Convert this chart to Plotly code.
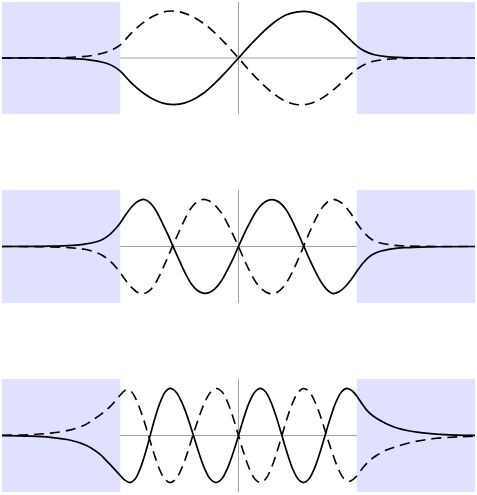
import plotly.graph_objects as go

# ---------------- data ----------------
# Panel 1 (top)
x1 = [-2.0, -1.6, -1.45, -1.35, -1.25, -1.15, -1.1, -1.05, -1.0, -0.9, -0.8, -0.7, -0.6,
      -0.5, -0.4, -0.3, -0.2, -0.1, 0.0, 0.1, 0.2, 0.3, 0.4, 0.5, 0.6, 0.7, 0.8, 0.9,
      1.0, 1.05, 1.1, 1.15, 1.25, 1.35, 1.45, 1.6, 2.0]
solid1 = [0.0, 0.0, -0.008, -0.02, -0.045, -0.09, -0.13, -0.19, -0.28, -0.55, -0.76, -0.91, -0.99,
          -0.99, -0.91, -0.76, -0.54, -0.28, 0.0, 0.28, 0.54, 0.76, 0.92, 0.99, 0.99, 0.9, 0.74, 0.5,
          0.26, 0.17, 0.11, 0.07, 0.03, 0.012, 0.004, 0.0, 0.0]
dash1 = [0.0, 0.003, 0.01, 0.025, 0.05, 0.1, 0.14, 0.2, 0.28, 0.55, 0.77, 0.92, 1.0,
         0.99, 0.9, 0.75, 0.54, 0.28, 0.0, -0.29, -0.55, -0.77, -0.93, -1.0, -0.98, -0.87, -0.69, -0.46,
         -0.24, -0.16, -0.1, -0.065, -0.03, -0.015, -0.006, -0.002, 0.0]

# Panel 2 (middle)
x2 = [-2.0, -1.6, -1.4, -1.3, -1.2, -1.15, -1.1, -1.05, -1.0, -0.95, -0.9, -0.85, -0.8, -0.75,
      -0.7, -0.65, -0.6, -0.55, -0.5, -0.45, -0.4, -0.35, -0.3, -0.25, -0.2, -0.15, -0.1, -0.05,
      0.0, 0.05, 0.1, 0.15, 0.2, 0.25, 0.3, 0.35, 0.4, 0.45, 0.5, 0.55, 0.6, 0.65, 0.7, 0.75,
      0.8, 0.85, 0.9, 0.95, 1.0, 1.05, 1.1, 1.15, 1.2, 1.3, 1.4, 1.6, 2.0]
solid2 = [0.0, 0.006, 0.025, 0.05, 0.1, 0.15, 0.23, 0.35, 0.5, 0.69, 0.85, 0.96, 1.0, 0.93,
          0.77, 0.53, 0.27, -0.02, -0.3, -0.57, -0.79, -0.93, -0.99, -0.98, -0.9, -0.75, -0.53, -0.28,
          0.0, 0.28, 0.53, 0.75, 0.9, 0.98, 0.99, 0.93, 0.79, 0.57, 0.3, 0.02, -0.27, -0.53, -0.76, -0.92,
          -1.0, -0.96, -0.86, -0.71, -0.53, -0.36, -0.23, -0.15, -0.1, -0.05, -0.025, -0.006, 0.0]
dash2 = [0.0, -0.008, -0.03, -0.06, -0.13, -0.19, -0.28, -0.4, -0.56, -0.73, -0.88, -0.98, -1.0, -0.93,
         -0.77, -0.52, -0.24, 0.05, 0.33, 0.6, 0.82, 0.95, 1.0, 0.97, 0.88, 0.73, 0.52, 0.27,
         0.0, -0.29, -0.55, -0.77, -0.91, -0.99, -1.0, -0.93, -0.79, -0.57, -0.3, 0.0, 0.3, 0.57, 0.8, 0.94,
         1.0, 0.96, 0.86, 0.7, 0.5, 0.33, 0.2, 0.12, 0.075, 0.03, 0.012, 0.003, 0.0]

# Panel 3 (bottom)
x3_solid = [-2.0, -1.75, -1.59, -1.42, -1.295, -1.25, -1.17, -1.13, -1.084, -1.04, -1.0, -0.96,
            -0.916, -0.874, -0.832, -0.789, -0.747, -0.705, -0.662, -0.62, -0.578, -0.529, -0.48,
            -0.43, -0.381, -0.333, -0.286, -0.238, -0.19, -0.1425, -0.095, -0.0475, 0.0,
            0.046, 0.092, 0.138, 0.184, 0.23, 0.275, 0.321, 0.367, 0.413, 0.458, 0.504, 0.55,
            0.595, 0.641, 0.686, 0.732, 0.778, 0.824, 0.87, 0.916, 0.96, 1.0, 1.04, 1.084, 1.13,
            1.17, 1.25, 1.34, 1.51, 1.675, 1.85, 2.0]
solid3 = [-0.003, -0.015, -0.04, -0.1, -0.2, -0.26, -0.4, -0.5, -0.62, -0.74, -0.85, -0.95,
          -1.0, -0.924, -0.707, -0.383, 0.0, 0.383, 0.707, 0.924, 1.0, 0.924, 0.707,
          0.383, 0.0, -0.383, -0.707, -0.924, -1.0, -0.924, -0.707, -0.383, 0.0,
          0.383, 0.707, 0.924, 1.0, 0.924, 0.707, 0.383, 0.0, -0.383, -0.707, -0.924, -1.0,
          -0.924, -0.707, -0.383, 0.0, 0.383, 0.707, 0.924, 1.0, 0.95, 0.84, 0.69, 0.54, 0.43,
          0.36, 0.25, 0.16, 0.07, 0.028, 0.009, 0.002]
x3_dash = [-2.0, -1.75, -1.59, -1.42, -1.295, -1.25, -1.17, -1.13, -1.084, -1.04, -1.0, -0.95,
           -0.903, -0.856, -0.808, -0.761, -0.715, -0.67, -0.624, -0.578, -0.53, -0.482, -0.434,
           -0.386, -0.335, -0.285, -0.234, -0.184, -0.138, -0.092, -0.046, 0.0,
           0.046, 0.092, 0.138, 0.184, 0.23, 0.275, 0.321, 0.367, 0.413, 0.46, 0.506, 0.552,
           0.6, 0.648, 0.697, 0.745, 0.795, 0.844, 0.894, 0.943, 1.0, 1.057, 1.11, 1.17, 1.25,
           1.34, 1.51, 1.675, 1.85, 2.0]
dash3 = [0.005, 0.02, 0.05, 0.12, 0.23, 0.3, 0.44, 0.52, 0.62, 0.74, 0.86, 0.97,
         0.924, 0.707, 0.383, 0.0, -0.383, -0.707, -0.924, -1.0, -0.924, -0.707, -0.383,
         0.0, 0.383, 0.707, 0.924, 1.0, 0.924, 0.707, 0.383, 0.0,
         -0.383, -0.707, -0.924, -1.0, -0.924, -0.707, -0.383, 0.0, 0.383, 0.707, 0.924, 1.0,
         0.924, 0.707, 0.383, 0.0, -0.383, -0.707, -0.924, -0.97, -0.86, -0.67, -0.53, -0.42, -0.31,
         -0.23, -0.12, -0.06, -0.03, -0.015]

panels = [
    (x1, solid1, x1, dash1),
    (x2, solid2, x2, dash2),
    (x3_solid, solid3, x3_dash, dash3),
]

X_RANGE = [-2, 2]
Y_RANGE = [-1.2, 1.2]
WELL = [-1, 1]
SHADE = "#E0E0FF"
AXIS_GRAY = "#A0A0A0"

domains = [[0.7714, 1.0], [0.3857, 0.6163], [0.0, 0.2306]]

fig = go.Figure()
shapes = []
for i, (xs, ys, xd, yd) in enumerate(panels):
    n = "" if i == 0 else str(i + 1)
    xa, ya = "x" + n, "y" + n
    fig.add_trace(go.Scatter(x=xd, y=yd, mode="lines", xaxis=xa, yaxis=ya,
                             line=dict(color="black", width=1.6, dash="10px,6px", shape="spline"),
                             hoverinfo="skip", showlegend=False))
    fig.add_trace(go.Scatter(x=xs, y=ys, mode="lines", xaxis=xa, yaxis=ya,
                             line=dict(color="black", width=1.7, shape="spline"),
                             hoverinfo="skip", showlegend=False))
    for a, b in [(X_RANGE[0], WELL[0]), (WELL[1], X_RANGE[1])]:
        shapes.append(dict(type="rect", xref=xa, yref=ya + " domain", x0=a, x1=b, y0=0, y1=1,
                           fillcolor=SHADE, line=dict(width=0), layer="below"))
    shapes.append(dict(type="line", xref=xa, yref=ya, x0=WELL[0], x1=WELL[1], y0=0, y1=0,
                       line=dict(color=AXIS_GRAY, width=1), layer="below"))
    shapes.append(dict(type="line", xref=xa, yref=ya + " domain", x0=0, x1=0, y0=0, y1=1,
                       line=dict(color=AXIS_GRAY, width=1), layer="below"))
    fig.layout["xaxis" + n] = dict(domain=[0, 1], range=X_RANGE, visible=False, anchor=ya,
                                   fixedrange=True)
    fig.layout["yaxis" + n] = dict(domain=domains[i], range=Y_RANGE, visible=False, anchor=xa,
                                   fixedrange=True)

fig.update_layout(width=477, height=495, margin=dict(l=2, r=2, t=2, b=3),
                  paper_bgcolor="white", plot_bgcolor="white", shapes=shapes,
                  showlegend=False)
fig.write_html("out.html", config={"displayModeBar": False},
               post_script="document.body.style.margin='0';document.body.style.overflow='hidden';")
